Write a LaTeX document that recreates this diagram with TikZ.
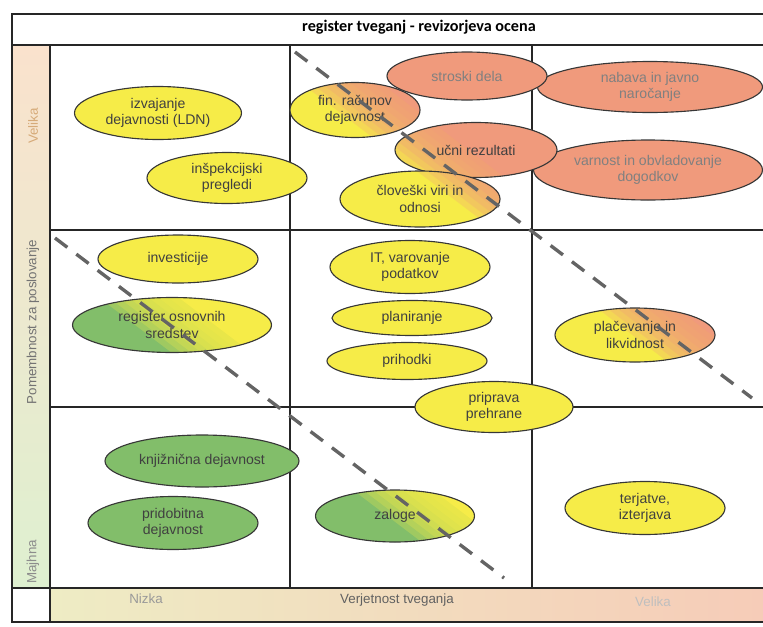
\documentclass[tikz,border=0pt]{standalone}
\usepackage{fontspec}
\setmainfont{Liberation Sans}
\newfontfamily\titlefont{Carlito}
\usetikzlibrary{shapes.geometric}

\definecolor{riskyellow}{RGB}{246,236,72}
\definecolor{riskorange}{RGB}{240,154,124}
\definecolor{riskgreen}{RGB}{130,190,106}
\definecolor{rim}{RGB}{55,55,55}
\definecolor{dashgray}{RGB}{100,100,100}
\definecolor{bandtop}{RGB}{250,226,205}
\definecolor{bandmid}{RGB}{246,238,222}
\definecolor{bandbot}{RGB}{222,240,208}
\definecolor{bandleft}{RGB}{238,236,196}
\definecolor{bandcentre}{RGB}{246,232,212}
\definecolor{bandright}{RGB}{246,204,184}

\tikzset{
	risk/.style 2 args={ellipse, draw=rim, line width=0.8pt, inner sep=0pt, align=center,
		minimum width=#1*0.025cm, minimum height=#2*0.025cm,
		font=\fontsize{10}{11.5}\selectfont, text=black!75},
	low/.style={fill=riskgreen},
	mid/.style={fill=riskyellow},
	high/.style={fill=riskorange, text=black!50},
	grid/.style={line width=0.9pt, black!85},
	riskline/.style={dashgray, line width=2.4pt, dash pattern=on 11pt off 8pt},
	axislabel/.style={font=\fontsize{9.5}{11}\selectfont, inner sep=0pt}
}

%colour split along the dashed lines
\newcommand{\splitfill}[7]{%
	\begin{scope}
		\clip (#1,#2) ellipse [x radius=#3*0.0125cm, y radius=#4*0.0125cm];
		\fill[#5] (#1,#2) ellipse [x radius=#3*0.0125cm, y radius=#4*0.0125cm];
		\foreach \s in {-21,-15,-9,-3,3,9,15,21}
		\fill[#6, fill opacity=0.25, shift={(0.6*\s,-0.8*\s)}] #7;
		\fill[#6, shift={(16,-22)}] #7;
	\end{scope}}
\newcommand{\upperA}{(-160,-294) -- (1205,744) -- (2005,-306) -- (640,-1344) -- cycle}
\newcommand{\upperB}{(-394,-102) -- (953,918) -- (1753,-132) -- (406,-1152) -- cycle}

\begin{document}
\begin{tikzpicture}[x=0.025cm, y=-0.025cm]
	\useasboundingbox (0,0) rectangle (763,626);
	
	%Axis bands
	\shade[top color=bandtop, middle color=bandmid, bottom color=bandbot] (12,45) rectangle (50,588);
	\shade[left color=bandleft, middle color=bandcentre, right color=bandright] (50,588) rectangle (763,622);
	
	%Frame and grid
	\draw[grid] (763,14) -- (12,14) -- (12,622) -- (763,622);
	\draw[grid] (12,45) -- (763,45);
	\draw[grid] (12,588) -- (763,588);
	\draw[grid] (50,230) -- (763,230);
	\draw[grid] (50,407) -- (763,407);
	\draw[grid] (50,45) -- (50,622);
	\draw[grid] (290,45) -- (290,588);
	\draw[grid] (532,45) -- (532,588);
	
	%Title
	\node (title) at (419,27) [font=\titlefont\bfseries\fontsize{11.5}{13}\selectfont, inner sep=0pt]{register tveganj - revizorjeva ocena};
	
	%Axis labels
	\node (velikaImp) at (33,126) [axislabel, rotate=90, text={rgb,255:red,214;green,170;blue,120}]{Velika};
	\node (importance) at (33,322) [axislabel, rotate=90, text=black!55]{Pomembnost za poslovanje};
	\node (majhnaImp) at (33,562) [axislabel, rotate=90, text=black!45]{Majhna};
	\node (nizkaProb) at (146,599) [axislabel, text=black!40]{Nizka};
	\node (probability) at (397,600) [axislabel, text=black!62]{Verjetnost tveganja};
	\node (velikaProb) at (653,602) [axislabel, text=black!25]{Velika};
	
	%High importance row
	\node (ldn) at (158,113) [risk={167}{53}, mid]{izvajanje\\dejavnosti (LDN)};
	\node (inspection) at (227,178) [risk={160}{51}, mid]{inšpekcijski\\pregledi};
	\splitfill{355}{110}{130}{55}{riskyellow}{riskorange}{\upperA}
	\node (accounting) at (355,110) [risk={130}{55}]{fin. računov\\dejavnost};
	\node (purchasing) at (650,87) [risk={225}{51}, high]{nabava in javno\\naročanje};
	\node (labour) at (467,76) [risk={160}{48}, high]{stroski dela};
	\node (safety) at (648,170) [risk={229}{60}, high]{varnost in obvladovanje\\dogodkov};
	\splitfill{476}{150}{162}{55}{riskyellow}{riskorange}{\upperA}
	\node (results) at (476,150) [risk={162}{55}]{učni rezultati};
	\splitfill{420}{199}{160}{56}{riskyellow}{riskorange}{\upperA}
	\node (staff) at (420,199) [risk={160}{56}]{človeški viri in\\odnosi};
	
	%Middle row
	\node (investments) at (178,259) [risk={160}{48}, mid]{investicije};
	\splitfill{172}{325}{199}{55}{riskgreen}{riskyellow}{\upperB}
	\node (assets) at (172,325) [risk={199}{55}]{register osnovnih\\sredstev};
	\node (itsecurity) at (410,267) [risk={160}{53}, mid]{IT, varovanje\\podatkov};
	\node (planning) at (412,318) [risk={160}{35}, mid]{planiranje};
	\node (income) at (407,361) [risk={160}{37}, mid]{prihodki};
	\splitfill{635}{335}{160}{54}{riskyellow}{riskorange}{\upperA}
	\node (payments) at (635,335) [risk={160}{54}]{plačevanje in\\likvidnost};
	\node (catering) at (494,407) [risk={158}{51}, mid]{priprava\\prehrane};
	
	%Low importance row
	\node (library) at (202,461) [risk={194}{52}, low]{knjižnična dejavnost};
	\node (commercial) at (173,523) [risk={170}{53}, low]{pridobitna\\dejavnost};
	\splitfill{395}{516}{159}{52}{riskgreen}{riskyellow}{\upperB}
	\node (stock) at (395,516) [risk={159}{52}]{zaloge};
	\node (claims) at (645,508) [risk={160}{53}, mid]{terjatve,\\izterjava};
	
	%Risk borders
	\coordinate (highStart) at (295,52);
	\coordinate (highEnd) at (752,398);
	\coordinate (lowStart) at (55,238);
	\coordinate (lowEnd) at (504,578);
	\draw[riskline] (highStart) -- (highEnd);
	\draw[riskline] (lowStart) -- (lowEnd);
	
\end{tikzpicture}
\end{document}
